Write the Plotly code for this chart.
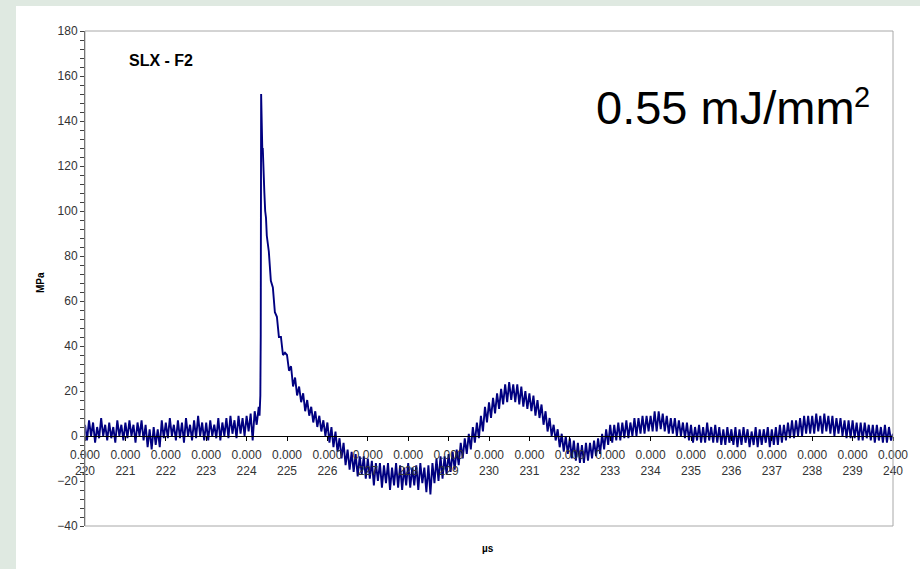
import numpy as np
import plotly.graph_objects as go

# pressure trace (MPa)
# baseline before the pulse: 220.00 .. 224.30 us, every 0.05 us
p_pre = [
    5, -2, 7, 0, 6, -3, 4, -1, 8, 0, 5, -2, 6, -1, 4, -3, 7, 0, 5, -2,
    6, -1, 7, 0, 5, -3, 6, 0, 7, -2, 5, -5, 3, -6, 4, -4, 3, -5, 7, -1,
    6, -1, 8, 0, 5, -2, 7, -1, 6, -3, 8, 0, 5, -2, 7, -1, 9, 0, 6, -2,
    6, -2, 7, 0, 5, -1, 8, -2, 6, 0, 8, -1, 9, 1, 7, -1, 9, 1, 8, 0,
    9, 2, 10, -2, 11, 5, 13,
]
# the shock front, sampled finer
t_peak = [224.32, 224.34, 224.35, 224.36, 224.37, 224.38, 224.39,
          224.40, 224.42, 224.44, 224.46, 224.48, 224.50]
p_peak = [9, 18, 45, 152, 139, 141, 126, 128, 114, 108, 100, 97, 89]
# decay and ringing: 224.55 .. 240.00 us, every 0.05 us
p_post = [
    82, 69, 66, 55, 53, 44, 44, 36, 37,
    36, 29, 31, 22, 26, 18, 22, 15, 19, 11, 16, 9, 13, 6, 11, 4, 9, 2, 7, 0,
    6, -3, 4, -5, 2, -7, -1, -10, -3, -13, -6, -15, -7, -16, -8, -18, -9, -17, -9, -19,
    -10, -19, -11, -22, -12, -20, -12, -23, -13, -21, -12, -24, -14, -22, -12, -23, -13, -24, -14, -22,
    -12, -23, -14, -22, -13, -24, -12, -21, -14, -25, -13, -26, -12, -21, -10, -20, -9, -19, -9, -17,
    -8, -16, -7, -15, -6, -13, -3, -10, -1, -8, 1, -6, 4, -3, 6, -1, 9, 2, 13, 6,
    15, 8, 17, 10, 19, 12, 21, 14, 23, 15, 24, 16, 23, 15, 23, 14, 22, 13, 20, 12,
    19, 11, 18, 9, 16, 8, 14, 5, 11, 2, 8, 0, 5, -2, 3, -5, 1, -7, 0, -8,
    -1, -10, -2, -11, -3, -12, -4, -12, -3, -11, -3, -10, -2, -9, -1, -8, 1, -6, 3, -4,
    5, -3, 5, -2, 6, -2, 6, -1, 7, -1, 6, 0, 8, 0, 8, 1, 9, 1, 9, 2,
    9, 2, 11, 2, 11, 3, 10, 2, 9, 1, 8, 1, 8, 0, 7, 0, 6, -1, 6, -2,
    5, -3, 4, -2, 5, -3, 4, -3, 6, -2, 4, -3, 5, -3, 4, -4, 3, -4, 4, -3,
    3, -4, 4, -5, 3, -4, 4, -3, 3, -5, 2, -4, 4, -5, 3, -4, 3, -3, 4, -5,
    3, -4, 4, -4, 5, -3, 5, -2, 6, -1, 7, -1, 7, 0, 8, 0, 9, 1, 9, 1,
    9, 1, 10, 2, 9, 1, 10, 2, 9, 1, 9, 0, 8, 1, 8, 0, 7, -1, 7, -1,
    7, -1, 6, -2, 6, -2, 6, -1, 5, -2, 5, -3, 5, -2, 4, -3, 5, -3, 4, -2,
    1,
]

t_pre = np.linspace(220.0, 224.30, len(p_pre))
t_post = np.linspace(224.55, 240.0, len(p_post))
t = np.concatenate([t_pre, t_peak, t_post])
p = p_pre + p_peak + p_post

x_ticks = list(range(220, 241))
x_ticktext = [f"0.000<br>{v}" for v in x_ticks]

FONT = "Arial, Liberation Sans, sans-serif"
BG = "#dfe9e1"
W, H = 920, 569
L, R, T, B = 85, 27, 31, 43


def px(x):
    return (x - L) / (W - L - R)


def py(y):
    return (H - B - y) / (H - T - B)


fig = go.Figure(go.Scatter(
    x=t, y=p, mode="lines",
    line=dict(color="#000080", width=1.9),
    hoverinfo="skip",
))

fig.update_layout(
    width=W, height=H,
    margin=dict(l=L, r=R, t=T, b=B),
    paper_bgcolor=BG,
    plot_bgcolor="white",
    showlegend=False,
    font=dict(family=FONT, size=12, color="#333"),
    shapes=[
        # white panel behind the chart
        dict(type="rect", xref="paper", yref="paper",
             x0=px(16), x1=px(W + 5), y0=py(H + 5), y1=py(6),
             fillcolor="white", line=dict(width=0), layer="below"),
        # plot frame
        dict(type="rect", xref="paper", yref="paper", x0=0, x1=1, y0=0, y1=1,
             line=dict(color="#a8a8a8", width=1), layer="above"),
    ],
    annotations=[
        dict(text="<b>SLX - F2</b>", xref="paper", yref="paper",
             x=px(127), y=py(61), xanchor="left", yanchor="middle",
             showarrow=False, font=dict(size=16, color="black")),
        dict(text="0.55 mJ/mm", xref="paper", yref="paper",
             x=px(594), y=py(107), xanchor="left", yanchor="middle",
             showarrow=False, font=dict(size=47, color="black")),
        dict(text="2", xref="paper", yref="paper",
             x=px(852), y=py(97), xanchor="left", yanchor="middle",
             showarrow=False, font=dict(size=29, color="black")),
        dict(text="<b>MPa</b>", xref="paper", yref="paper",
             x=px(40), y=py(283), xanchor="center", yanchor="middle",
             textangle=-90,
             showarrow=False, font=dict(size=10, color="black")),
        dict(text="<b>µs</b>", xref="paper", yref="paper",
             x=px(488), y=py(548), xanchor="center", yanchor="middle",
             showarrow=False, font=dict(size=10, color="black")),
    ],
)

fig.update_xaxes(
    range=[220, 240], anchor="free", position=40 / 220,
    showline=True, linecolor="black", linewidth=1,
    ticks="outside", ticklen=4, tickcolor="black",
    tickvals=x_ticks, ticktext=x_ticktext, ticklabelstandoff=4,
    tickfont=dict(size=12, color="#333"),
    showgrid=False, zeroline=False,
)
fig.update_yaxes(
    range=[-40, 180], dtick=20,
    showline=True, linecolor="#404040", linewidth=1,
    ticks="outside", ticklen=4, tickcolor="#404040",
    minor=dict(dtick=4, ticks="outside", ticklen=4, tickcolor="#404040"),
    tickfont=dict(size=12, color="#333"),
    showgrid=False, zeroline=False,
)

# drop the page margin so the figure sits at the window's corner
fig.write_html(
    "out.html",
    config={"displayModeBar": False},
    post_script=f"document.body.style.margin='0';"
                f"document.body.style.background='{BG}';",
)
